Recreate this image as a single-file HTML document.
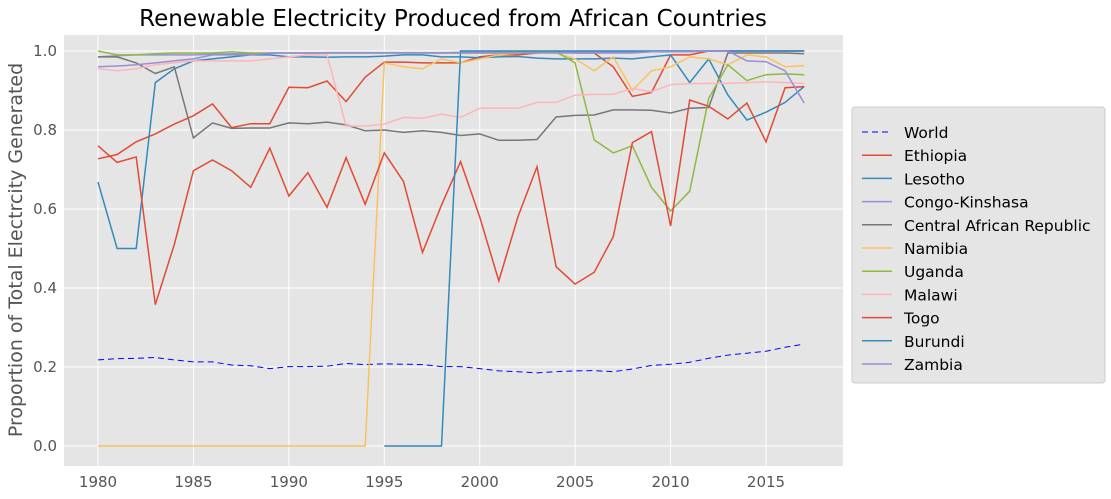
<!DOCTYPE html>
<html><head><meta charset="utf-8"><style>
body{margin:0;background:#fff;font-family:"DejaVu Sans","Liberation Sans",sans-serif;}
</style></head><body>
<svg width="1111" height="495" xmlns="http://www.w3.org/2000/svg" id="c" font-family="DejaVu Sans, Liberation Sans, sans-serif">
<text x="453" y="26" font-size="23" text-anchor="middle" fill="#000">Renewable Electricity Produced from African Countries</text>
<rect x="64" y="35" width="779" height="431" fill="#e5e5e5"/>
<g id="grid"></g><g id="series"></g><g id="ticks"></g>
<text transform="translate(22,250) rotate(-90)" font-size="19" text-anchor="middle" fill="#555">Proportion of Total Electrcity Generated</text>
<g id="legend"></g>
</svg>
<script>
const years=[];for(let y=1980;y<=2017;y++)years.push(y);
const xTicks=[1980,1985,1990,1995,2000,2005,2010,2015];
const yTicks=[0,0.2,0.4,0.6,0.8,1.0];
const seriesNames=["World","Ethiopia","Lesotho","Congo-Kinshasa","Central African Republic","Namibia","Uganda","Malawi","Togo","Burundi","Zambia"];
const colors=["#0000ff","#E24A33","#348ABD","#988ED5","#777777","#FBC15E","#8EBA42","#FFB5B8","#E24A33","#348ABD","#988ED5"];
const world=[0.218,0.221,0.222,0.224,0.218,0.213,0.213,0.205,0.203,0.196,0.201,0.201,0.202,0.209,0.206,0.208,0.207,0.206,0.201,0.201,0.196,0.19,0.188,0.185,0.188,0.19,0.191,0.188,0.195,0.204,0.207,0.212,0.222,0.23,0.235,0.24,0.25,0.258];
const ethiopia=[0.727,0.738,0.77,0.79,0.815,0.836,0.866,0.806,0.816,0.816,0.908,0.907,0.924,0.872,0.934,0.972,0.972,0.97,0.97,0.97,0.985,0.99,0.99,0.995,0.998,0.995,0.995,0.96,0.885,0.895,0.99,0.99,1.0,1.0,1.0,1.0,1.0,1.0];
const lesotho=[0.668,0.5,0.5,0.92,0.955,0.975,0.98,0.985,0.99,0.99,0.985,0.985,0.984,0.985,0.985,0.987,0.99,0.99,0.985,0.985,0.983,0.985,0.986,0.982,0.98,0.98,0.98,0.982,0.98,0.985,0.99,0.92,0.98,0.889,0.825,0.845,0.87,0.91];
const congo=[0.985,0.988,0.99,0.99,0.99,0.99,0.992,0.993,0.993,0.995,0.995,0.995,0.996,0.996,0.996,0.996,0.996,0.996,0.996,0.997,0.997,0.997,0.997,0.997,0.998,0.998,0.998,0.998,0.998,0.998,0.999,0.999,1.0,1.0,1.0,1.0,1.0,1.0];
const car=[0.985,0.985,0.97,0.943,0.96,0.78,0.818,0.804,0.805,0.805,0.818,0.816,0.82,0.813,0.798,0.8,0.794,0.798,0.794,0.786,0.79,0.774,0.774,0.776,0.833,0.837,0.838,0.851,0.851,0.85,0.843,0.855,0.857,0.995,0.995,0.995,0.995,0.993];
const namibia=[0,0,0,0,0,0,0,0,0,0,0,0,0,0,0,0.97,0.96,0.955,0.98,0.97,0.98,0.99,0.995,1.0,0.995,0.98,0.95,0.985,0.9,0.95,0.96,0.985,0.98,0.965,0.99,0.985,0.96,0.963];
const uganda=[1.0,0.99,0.99,0.993,0.995,0.995,0.995,0.998,0.995,0.995,0.995,0.995,0.995,0.995,0.995,0.995,0.995,0.995,0.995,0.995,0.995,0.995,0.998,0.998,0.998,0.97,0.775,0.742,0.76,0.655,0.595,0.645,0.88,0.965,0.925,0.94,0.942,0.94];
const malawi=[0.955,0.95,0.955,0.965,0.97,0.975,0.975,0.975,0.975,0.98,0.985,0.99,0.99,0.81,0.81,0.815,0.832,0.83,0.84,0.832,0.855,0.855,0.855,0.87,0.87,0.888,0.89,0.89,0.905,0.897,0.915,0.917,0.918,0.918,0.92,0.922,0.92,0.918];
const togo=[0.76,0.718,0.732,0.358,0.51,0.697,0.724,0.697,0.655,0.754,0.633,0.692,0.604,0.73,0.612,0.742,0.67,0.49,0.61,0.72,0.58,0.418,0.58,0.707,0.454,0.41,0.44,0.53,0.768,0.796,0.557,0.876,0.86,0.828,0.868,0.77,0.907,0.91];
const burundi=[null,null,null,null,null,null,null,null,null,null,null,null,null,null,null,0,0,0,0,1.0,1.0,1.0,1.0,1.0,1.0,1.0,1.0,1.0,1.0,1.0,1.0,1.0,1.0,1.0,1.0,1.0,1.0,1.0];
const zambia=[0.96,0.962,0.965,0.97,0.975,0.98,0.99,0.99,0.99,0.995,0.995,0.995,0.995,0.995,0.995,0.995,0.995,0.995,0.995,0.995,0.995,0.995,0.995,0.995,0.995,0.995,0.995,0.995,0.995,0.998,0.998,0.998,1.0,1.0,0.975,0.973,0.95,0.868];
const allSeries=[world,ethiopia,lesotho,congo,car,namibia,uganda,malawi,togo,burundi,zambia];
const NS="http://www.w3.org/2000/svg";
const X=y=>98+(y-1980)*(766-98)/35;
const Y=v=>446-v*395;
function mk(t,a,p){const e=document.createElementNS(NS,t);for(const k in a)e.setAttribute(k,a[k]);document.getElementById(p).appendChild(e);return e;}
xTicks.forEach(t=>{
 const l=mk('line',{x1:X(t),x2:X(t),y1:35,y2:466,stroke:'#fff','stroke-width':1},'grid');
 
 
 const tx=mk('text',{x:X(t),y:487,'font-size':15,'text-anchor':'middle',fill:'#555'},'ticks');
 tx.textContent=t;
 
 
});
yTicks.forEach(t=>{
 const l=mk('line',{x1:64,x2:843,y1:Y(t),y2:Y(t),stroke:'#fff','stroke-width':1},'grid');
 
 
 const tx=mk('text',{x:57,y:Y(t)+5,'font-size':15,'text-anchor':'end',fill:'#555'},'ticks');
 tx.textContent=t.toFixed(1);
 
 
});
allSeries.forEach((s,i)=>{
 let d='',pen=false;
 s.forEach((v,j)=>{if(v===null){pen=false;return;}d+=(pen?'L':'M')+X(years[j]).toFixed(1)+','+Y(v).toFixed(1);pen=true;});
 const p=mk('path',{d:d,fill:'none',stroke:colors[i],'stroke-width':i==0?1:1.5},'series');
 if(i==0)p.setAttribute('stroke-dasharray','6,4');
 
 
});
const lg=mk('rect',{x:852,y:107,width:253,height:276,fill:'#e5e5e5',stroke:'#ccc','stroke-width':1,rx:3},'legend');


seriesNames.forEach((n,i)=>{
 const yy=132+i*23.2;
 const l=mk('line',{x1:862,x2:892,y1:yy,y2:yy,stroke:colors[i],'stroke-width':i==0?1:1.5},'legend');
 if(i==0)l.setAttribute('stroke-dasharray','6,4');
 
 
 const t=mk('text',{x:904,y:yy+6,'font-size':15.5,fill:'#000'},'legend');
 t.textContent=n;
 
 
});
</script>
</body></html>
